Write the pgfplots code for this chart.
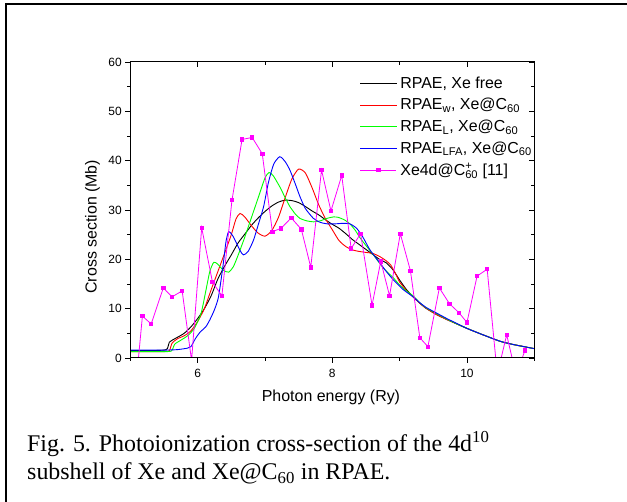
\documentclass[border=0pt]{standalone}
\usepackage{fontspec}
\setmainfont{Liberation Sans}
\newfontfamily\timesfont{Liberation Serif}
\usepackage{pgfplots}
\pgfplotsset{compat=1.18}
\definecolor{cred}{RGB}{255,0,0}
\definecolor{cgreen}{RGB}{0,255,0}
\definecolor{cblue}{RGB}{0,0,255}
\definecolor{cmag}{RGB}{255,0,255}
\begin{document}
\begin{tikzpicture}
\path[use as bounding box] (0bp,0bp) rectangle (627bp,502bp);
\draw[line width=2bp] (6bp,0bp) -- (6bp,497.8bp) -- (627bp,497.8bp);
\node[anchor=base west, inner sep=0pt, font=\timesfont\fontsize{24}{28}\selectfont] at (27bp,50.3bp) {Fig. 5. Photoionization cross-section of the 4d\textsuperscript{10}};
\node[anchor=base west, inner sep=0pt, font=\timesfont\fontsize{24}{28}\selectfont] at (27bp,22.7bp) {subshell of Xe and Xe@C\textsubscript{60} in RPAE.};
\begin{axis}[
  at={(130.3bp,144bp)}, anchor=south west, scale only axis,
  width=404bp, height=296bp,
  xmin=5, xmax=11, ymin=0, ymax=60,
  xtick={6,8,10}, minor xtick={5,7,9,11},
  ytick={0,10,...,60}, minor ytick={5,15,...,55},
  tick align=outside, tick pos=left,
  major tick length=5bp, minor tick length=3bp,
  every tick/.style={black, line width=0.8bp},
  axis line style={line width=1bp},
  ticklabel style={font=\fontsize{12}{14}\selectfont},
  xticklabel style={yshift=-3bp},
  /pgf/number format/assume math mode=true,
  clip marker paths=true,
  xlabel={Photon energy (Ry)}, ylabel={Cross section (Mb)},
  label style={font=\fontsize{16}{19}\selectfont},
  xlabel style={at={(axis description cs:0.4967,-0.1486)}, anchor=base},
  ylabel style={at={(axis description cs:-0.0936,0.4436)}, anchor=center},
  legend style={draw=none, fill=none, at={(axis description cs:0.568,0.952)}, anchor=north west,
    font=\fontsize{16}{18}\selectfont, row sep=7.5bp, column sep=3bp, inner sep=0pt, nodes={inner sep=0.5bp}},
  legend cell align=left,
  legend image code/.code={\draw[mark repeat=2,mark phase=2,#1] plot coordinates {(0bp,0bp) (18bp,0bp) (36bp,0bp)};},
]
\addplot[black, line width=0.9bp, smooth, tension=0.4] coordinates {
(5.0,1.5) (5.3,1.5) (5.5,1.6) (5.55,1.9) (5.58,3.2) (5.62,3.6) (5.7,4.2) (5.8,5.0) (5.9,6.3) (6.0,8.0) (6.1,10.0) (6.2,12.6) (6.3,16.0) (6.4,18.6) (6.5,20.9) (6.6,23.3) (6.7,25.1) (6.8,26.9) (6.9,28.4) (7.0,29.7) (7.1,30.8) (7.2,31.6) (7.3,32.0) (7.4,31.9) (7.5,31.5) (7.6,30.7) (7.7,29.8) (7.8,29.0) (7.9,28.0) (8.0,27.1) (8.1,26.3) (8.2,25.2) (8.3,24.0) (8.4,23.0) (8.5,22.0) (8.6,21.0) (8.7,20.0) (8.8,19.3) (8.9,17.9) (9.0,15.8) (9.1,13.9) (9.2,12.4) (9.3,11.1) (9.4,10.0) (9.55,8.8) (9.7,7.8) (9.85,6.9) (10.0,6.0) (10.2,4.9) (10.49,3.4) (10.7,2.7) (11.0,1.9)};
\addlegendentry{RPAE, Xe free}
\addplot[cred, line width=0.9bp, smooth, tension=0.4] coordinates {
(5.0,1.3) (5.5,1.3) (5.58,1.5) (5.62,3.0) (5.7,3.9) (5.8,4.5) (5.9,5.5) (6.0,7.4) (6.1,10.0) (6.2,13.8) (6.3,17.5) (6.4,21.2) (6.5,25.0) (6.57,28.2) (6.63,29.3) (6.7,28.6) (6.8,26.8) (6.9,25.3) (7.0,24.7) (7.1,25.8) (7.2,28.5) (7.3,32.5) (7.4,36.3) (7.5,38.3) (7.6,37.5) (7.7,34.5) (7.8,31.0) (7.9,28.2) (8.0,26.0) (8.1,23.8) (8.2,22.6) (8.3,21.9) (8.4,21.6) (8.5,21.4) (8.6,21.2) (8.7,20.6) (8.8,19.7) (8.87,18.8) (8.95,16.8) (9.0,15.4) (9.1,13.7) (9.2,12.4) (9.3,11.1) (9.4,10.0) (9.55,8.8) (9.7,7.8) (9.85,6.9) (10.0,6.0) (10.2,4.9) (10.49,3.4) (10.7,2.7) (11.0,1.9)};
\addlegendentry{RPAE\textsubscript{w}, Xe@C\textsubscript{60}}
\addplot[cgreen, line width=0.9bp, smooth, tension=0.4] coordinates {
(5.0,1.3) (5.55,1.3) (5.62,1.6) (5.66,2.8) (5.75,3.6) (5.85,4.5) (5.95,6.0) (6.05,9.0) (6.12,13.5) (6.18,17.5) (6.24,19.4) (6.3,19.0) (6.38,17.8) (6.46,17.4) (6.53,18.5) (6.6,20.8) (6.7,24.5) (6.8,28.5) (6.9,32.5) (7.0,36.5) (7.06,37.6) (7.12,37.0) (7.22,34.7) (7.3,32.5) (7.37,30.7) (7.45,29.2) (7.52,28.3) (7.62,27.8) (7.72,27.6) (7.82,27.8) (7.92,28.3) (8.02,28.6) (8.09,28.5) (8.18,28.0) (8.26,27.2) (8.34,25.9) (8.41,24.4) (8.5,22.8) (8.61,20.9) (8.76,18.2) (8.91,16.2) (9.0,14.8) (9.1,13.6) (9.2,12.6) (9.3,11.2) (9.4,10.1) (9.55,9.0) (9.7,7.9) (9.85,6.9) (10.0,6.0) (10.2,4.9) (10.49,3.4) (10.7,2.7) (11.0,1.9)};
\addlegendentry{RPAE\textsubscript{L}, Xe@C\textsubscript{60}}
\addplot[cblue, line width=0.9bp, smooth, tension=0.4] coordinates {
(5.0,1.6) (5.5,1.6) (5.7,1.7) (5.85,2.0) (5.9,2.3) (5.97,4.0) (6.04,5.3) (6.12,6.3) (6.18,7.7) (6.25,9.8) (6.31,12.4) (6.38,19.0) (6.42,23.5) (6.46,25.6) (6.52,24.8) (6.58,23.2) (6.63,21.8) (6.68,20.9) (6.75,21.6) (6.83,23.9) (6.9,27.0) (6.98,30.7) (7.05,35.5) (7.13,39.3) (7.22,40.8) (7.3,39.8) (7.37,38.1) (7.45,35.3) (7.52,32.7) (7.6,30.3) (7.72,28.3) (7.82,27.5) (7.92,27.2) (8.05,27.2) (8.16,27.3) (8.26,27.2) (8.36,26.3) (8.45,24.6) (8.56,21.9) (8.71,19.2) (8.81,17.4) (8.91,15.8) (9.05,13.9) (9.2,12.4) (9.3,11.2) (9.4,10.2) (9.55,9.1) (9.7,8.0) (9.85,7.0) (10.0,6.0) (10.2,4.9) (10.49,3.4) (10.7,2.7) (11.0,1.9)};
\addlegendentry{RPAE\textsubscript{LFA}, Xe@C\textsubscript{60}}
\addplot[cmag, line width=0.8bp, mark=square*, mark size=1.7bp, mark options={solid, fill=cmag}] coordinates {
(5.04,-11.7) (5.18,8.5) (5.31,6.9) (5.49,14.2) (5.62,12.4) (5.77,13.6) (5.91,-0.5) (6.06,26.4) (6.22,15.4) (6.36,12.6) (6.51,32.0) (6.66,44.3) (6.81,44.7) (6.96,41.4) (7.11,25.6) (7.24,26.3) (7.39,28.4) (7.54,26.1) (7.68,18.4) (7.84,38.1) (7.98,29.8) (8.14,37.0) (8.28,22.2) (8.42,25.2) (8.59,10.7) (8.72,19.6) (8.85,12.6) (9.01,25.2) (9.16,17.7) (9.30,4.1) (9.42,2.3) (9.59,14.2) (9.74,11.0) (9.88,9.2) (10.0,7.2) (10.15,16.6) (10.30,18.0) (10.45,-3.3) (10.59,4.7) (10.73,-3.5) (10.86,1.5)};
\addlegendentry{Xe4d@C\rlap{\textsuperscript{+}}\textsubscript{60} [11]}
\end{axis}
\begin{axis}[
  at={(130.3bp,144bp)}, anchor=south west, scale only axis,
  width=404bp, height=296bp,
  xmin=5, xmax=11, ymin=0, ymax=60,
  xtick={6,8,10}, minor xtick={5,7,9,11},
  ytick={0,10,...,60}, minor ytick={5,15,...,55},
  tick align=inside, xtick pos=right, ytick pos=right,
  xticklabels={}, yticklabels={},
  major tick length=5bp, minor tick length=3bp,
  every tick/.style={black, line width=0.8bp},
  axis line style={line width=1bp},
]
\end{axis}
\end{tikzpicture}
\end{document}
